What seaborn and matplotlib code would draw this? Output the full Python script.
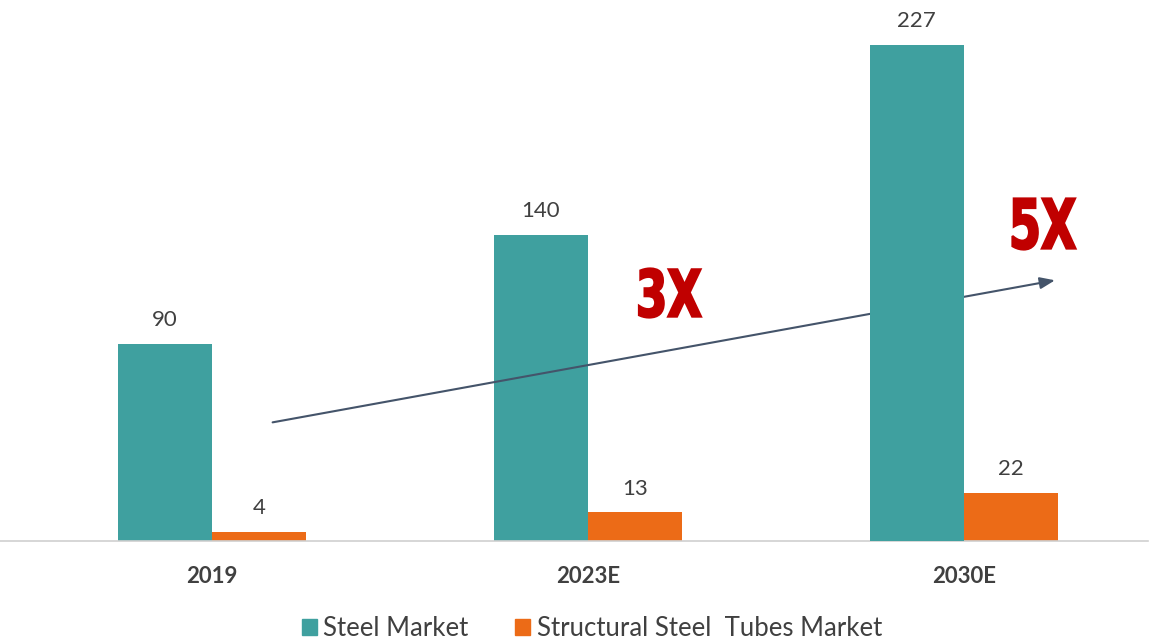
import matplotlib
matplotlib.use('Agg')
import matplotlib.pyplot as plt
import seaborn as sns
import pandas as pd
from matplotlib.patches import Patch, PathPatch
from matplotlib.textpath import TextPath
from matplotlib.font_manager import FontProperties
from matplotlib.transforms import Affine2D

years = ['2019', '2023E', '2030E']
steel_market = [90, 140, 227]
tubes_market = [4, 13, 22]
series_names = ['Steel Market', 'Structural Steel  Tubes Market']
colors = ['#3FA09F', '#EC6B17']

df = pd.DataFrame({
    'year': years * 2,
    'value': steel_market + tubes_market,
    'series': [series_names[0]] * 3 + [series_names[1]] * 3,
})

sns.set_style('white')
plt.rcParams['font.family'] = ['Lato', 'DejaVu Sans']

fig = plt.figure(figsize=(11.58, 6.4), dpi=100)
ax = fig.add_axes([0, 0.155, 0.991, 0.845])

sns.barplot(data=df, x='year', y='value', hue='series', palette=colors,
            width=0.5, gap=0, saturation=1, legend=False, linewidth=0,
            ax=ax)

ax.set_xlim(-0.564, 2.489)
ax.set_ylim(0, 247.6)

# labels over bars
for container in ax.containers:
    ax.bar_label(container, padding=10, fontsize=16, color='#404040')

# put the 2030E steel bar above the arrow
for p in ax.patches:
    if abs(p.get_height() - 227) < 0.5:
        p.set_zorder(5)

ax.annotate('', xy=(2.25, 119.5), xytext=(0.154, 54),
            arrowprops=dict(arrowstyle='-|>,head_length=0.9,head_width=0.35',
                            color='#44546A', lw=1.5), zorder=4)


# condensed heavy "3X" / "5X" (no Impact here, so squeeze a bold path)
def big_text(s, cx, cy, w, h):
    tp = TextPath((0, 0), s, size=50,
                  prop=FontProperties(family='DejaVu Sans', weight='bold'))
    ext = tp.get_extents()
    tr = (Affine2D().translate(-ext.x0 - ext.width / 2, -ext.y0 - ext.height / 2)
          .scale(w / ext.width, h / ext.height)
          .translate(cx, 640 - cy)
          .scale(1 / 100.0) + fig.dpi_scale_trans)
    fig.patches.append(PathPatch(tp, transform=tr, facecolor='#C00000',
                                 edgecolor='#C00000', linewidth=1.6,
                                 figure=fig))


big_text('3X', 670, 293, 62, 49)
big_text('5X', 1044, 224, 63, 51)

ax.set_xlabel('')
ax.set_ylabel('')
ax.set_yticks([])
ax.tick_params(axis='x', length=0, pad=18, labelsize=16, labelcolor='#404040')
for lbl in ax.get_xticklabels():
    lbl.set_fontweight('bold')

for s in ['top', 'left', 'right']:
    ax.spines[s].set_visible(False)
ax.spines['bottom'].set_color('#D0D0D0')
ax.spines['bottom'].set_linewidth(1.2)

handles = [Patch(color=c, label=n) for c, n in zip(colors, series_names)]
fig.legend(handles=handles, loc='center', bbox_to_anchor=(0.511, 0.018),
           ncol=2, frameon=False, fontsize=18.5, handlelength=0.6,
           handleheight=0.6, handletextpad=0.25, columnspacing=1.8,
           labelcolor='#404040')

fig.savefig('out.png', dpi=100)
